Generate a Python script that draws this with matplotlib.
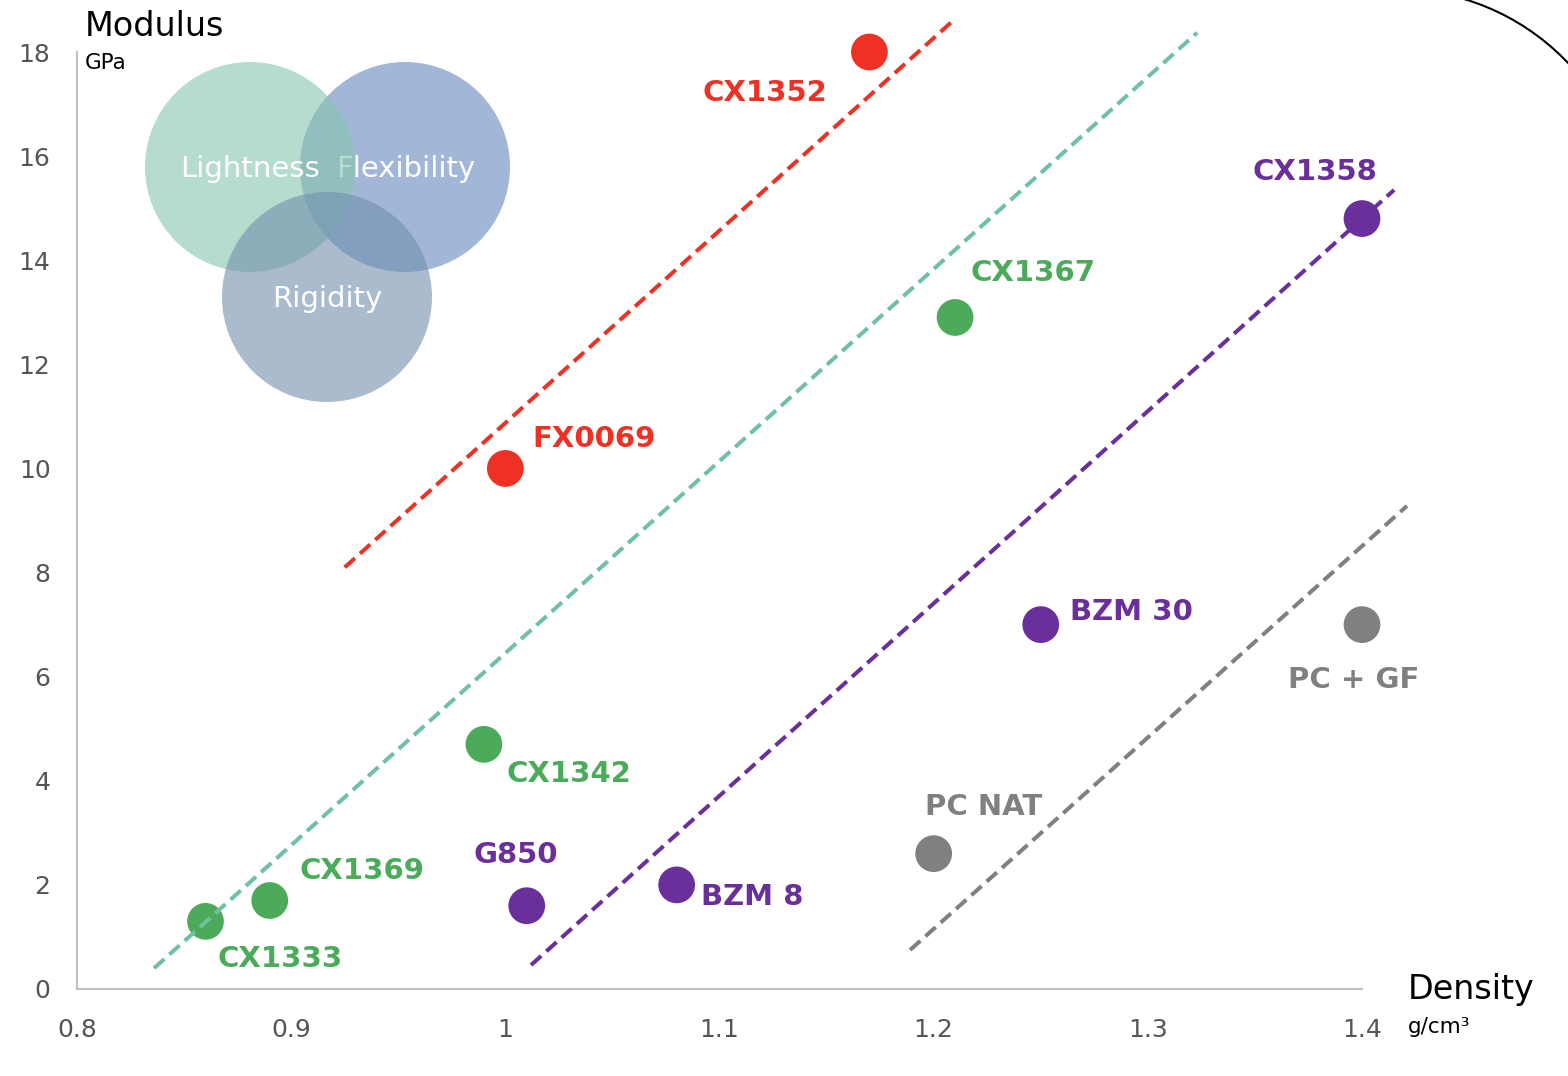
import matplotlib
matplotlib.use("Agg")
import matplotlib.pyplot as plt
from matplotlib.patches import Circle, Arc

plt.rcParams["font.family"] = ["DejaVu Sans"]

# ── data ─────────────────────────────────────────────────────────────────────
names = ["CX1352", "FX0069", "CX1367", "CX1342", "CX1369", "CX1333",
         "CX1358", "BZM 30", "G850", "BZM 8", "PC NAT", "PC + GF"]
density = [1.17, 1.00, 1.21, 0.99, 0.89, 0.86, 1.40, 1.25, 1.01, 1.08, 1.20, 1.40]
modulus = [18.0, 10.0, 12.9, 4.7, 1.7, 1.3, 14.8, 7.0, 1.6, 2.0, 2.6, 7.0]
family = ["red", "red", "green", "green", "green", "green",
          "purple", "purple", "purple", "purple", "gray", "gray"]

# trend lines: ([x0, x1], [y0, y1]) per family
trend_red = ([0.925, 1.209], [8.1, 18.6])
trend_green = ([0.836, 1.323], [0.4, 18.37])
trend_purple = ([1.012, 1.415], [0.46, 15.35])
trend_gray = ([1.189, 1.421], [0.75, 9.28])

xticks = [0.8, 0.9, 1.0, 1.1, 1.2, 1.3, 1.4]
xticklabels = ["0.8", "0.9", "1", "1.1", "1.2", "1.3", "1.4"]
yticks = [0, 2, 4, 6, 8, 10, 12, 14, 16, 18]

# ── style ────────────────────────────────────────────────────────────────────
POINT_COLORS = {"red": "#ee3124", "green": "#4cab5b", "purple": "#6a2f9b", "gray": "#808080"}
LINE_COLORS = {"red": "#ee3124", "green": "#6fc19f", "purple": "#6a2f9b", "gray": "#808080"}
# label offsets in pixels (dx, dy) and horizontal alignment
LABEL_POS = {
    "CX1352": (-42, -41, "right"),
    "FX0069": (27, 29, "left"),
    "CX1367": (15, 44, "left"),
    "CX1342": (23, -30, "left"),
    "CX1369": (30, 30, "left"),
    "CX1333": (12, -38, "left"),
    "CX1358": (-47, 47, "center"),
    "BZM 30": (29, 13, "left"),
    "G850": (-11, 51, "center"),
    "BZM 8": (24, -12, "left"),
    "PC NAT": (-9, 47, "left"),
    "PC + GF": (-8, -55, "center"),
}

fig = plt.figure(figsize=(15.68, 10.76), dpi=100)
ax = fig.add_axes([77 / 1568, 1 - 989 / 1076, (1362 - 77) / 1568, (989 - 52) / 1076])
ax.set_xlim(0.8, 1.4)
ax.set_ylim(0, 18)

for fam, (xs, ys) in [("red", trend_red), ("green", trend_green),
                      ("purple", trend_purple), ("gray", trend_gray)]:
    ax.plot(xs, ys, color=LINE_COLORS[fam], lw=2.9, linestyle=(0, (3.4, 1.7)),
            clip_on=False, zorder=4)

for name, x, y, fam in zip(names, density, modulus, family):
    ax.scatter([x], [y], s=700, color=POINT_COLORS[fam], edgecolors="none",
               clip_on=False, zorder=3)
    dx, dy, ha = LABEL_POS[name]
    ax.annotate(name, (x, y), xytext=(dx, dy), textcoords="offset pixels",
                ha=ha, va="center", fontsize=21, fontweight="bold",
                color=POINT_COLORS[fam], zorder=5, annotation_clip=False)

for side in ["top", "right"]:
    ax.spines[side].set_visible(False)
for side in ["left", "bottom"]:
    ax.spines[side].set_color("#c0c0c0")
    ax.spines[side].set_linewidth(1.5)
ax.set_xticks(xticks)
ax.set_xticklabels(xticklabels)
ax.set_yticks(yticks)
ax.tick_params(length=0, labelsize=18, labelcolor="#555555")
ax.tick_params(axis="x", pad=21)
ax.tick_params(axis="y", pad=19)

# axis titles
fig.text(85 / 1568, 1 - 26 / 1076, "Modulus", fontsize=24, va="center", ha="left")
fig.text(85 / 1568, 1 - 63 / 1076, "GPa", fontsize=15.5, va="center", ha="left")
fig.text(1408 / 1568, 1 - 990 / 1076, "Density", fontsize=24, va="center", ha="left")
fig.text(1408 / 1568, 1 - 1027 / 1076, "g/cm³", fontsize=15.5, va="center", ha="left")

# ── decorative overlay (pixel coordinates) ──────────────────────────────────
over = fig.add_axes([0, 0, 1, 1], zorder=5)
over.set_xlim(0, 1568)
over.set_ylim(1076, 0)
over.axis("off")
over.patch.set_alpha(0)

over.add_patch(Circle((405, 167), 105, color="#6587be", alpha=0.6, lw=0, zorder=1))
over.text(406, 169, "Flexibility", color="white", fontsize=21, ha="center",
          va="center", zorder=1.5)
over.add_patch(Circle((250, 167), 105, color="#84c5ad", alpha=0.6, lw=0, zorder=2))
over.text(250, 169, "Lightness", color="white", fontsize=21, ha="center",
          va="center", zorder=2.5)
over.add_patch(Circle((327, 297), 105, color="#718fad", alpha=0.6, lw=0, zorder=3))
over.text(327, 299, "Rigidity", color="white", fontsize=21, ha="center",
          va="center", zorder=3.5)

over.add_patch(Arc((1396, 226), 474, 474, theta1=270, theta2=360,
                   color="black", lw=1.5))

fig.savefig("out.png", dpi=100)
